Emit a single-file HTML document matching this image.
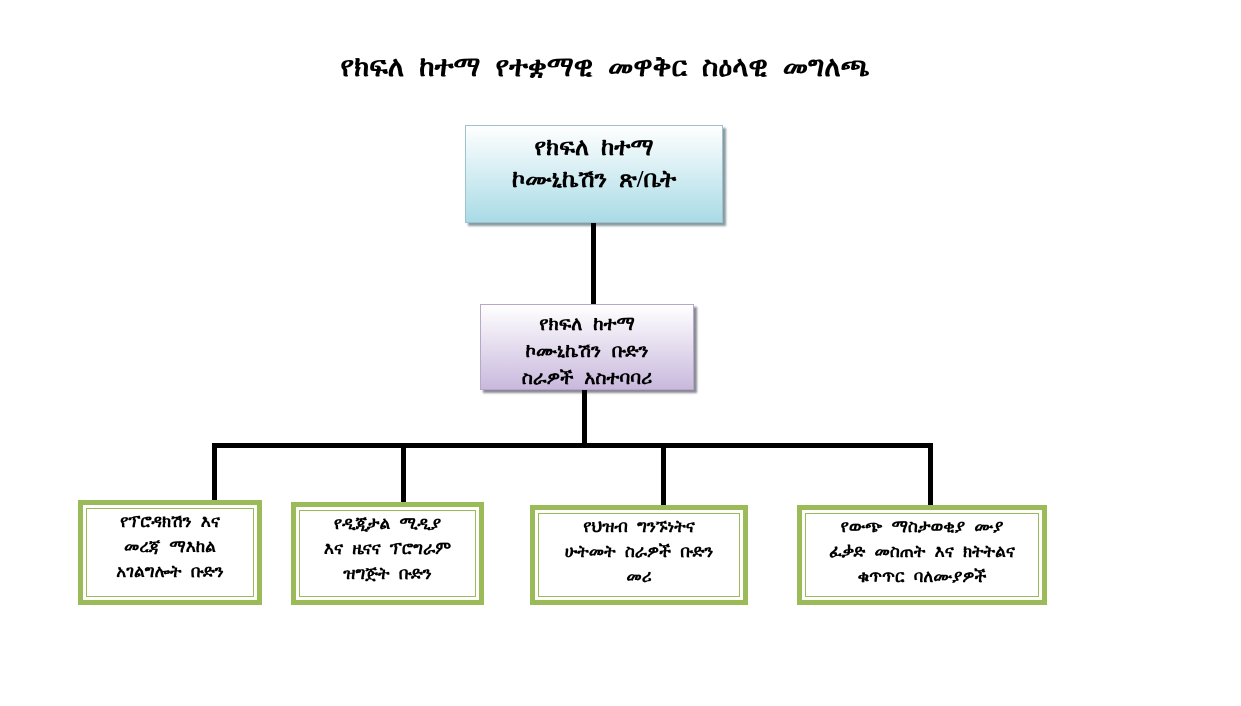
<!DOCTYPE html>
<html><head><meta charset="utf-8"><style>
body{margin:0;width:1241px;height:706px;background:#fff;position:relative;overflow:hidden;font-family:"Liberation Serif","DejaVu Sans",serif;color:#000}
.a{position:absolute;box-sizing:border-box;text-align:center;white-space:nowrap}
.t{left:0;width:1210px;top:52px;font-size:28px;font-weight:bold;word-spacing:8px}
.top{left:465px;top:125px;width:258px;height:98px;border:1px solid #9cc3cf;background:linear-gradient(#fff,#a9dbe6);box-shadow:3px 3px 2px #8a9aa0;font-size:24px;font-weight:bold;line-height:32px;padding-top:6px;word-spacing:6px}
.mid{left:480px;top:304px;width:214px;height:86px;border:1px solid #b7a8c8;background:linear-gradient(#fff,#c9b9dd);box-shadow:3px 3px 2px #8a8a95;font-size:19px;font-weight:bold;line-height:27px;padding-top:6px;word-spacing:6px}
.l{position:absolute;background:#000}
.g{border:5px solid #9bbb59;background:#fff;padding:3px}
.g div{border:1px solid #9bbb59;height:100%;box-sizing:border-box;font-size:17px;font-weight:bold;line-height:25px;padding-top:0px;word-spacing:5px}
</style></head><body>
<div class="a t">የክፍለ ከተማ የተቋማዊ መዋቅር ስዕላዊ መግለጫ</div>
<div class="a top">የክፍለ ከተማ<br>ኮሙኒኬሽን ጽ/ቤት</div>
<div class="l" style="left:591px;top:223px;width:5px;height:82px"></div>
<div class="a mid">የክፍለ ከተማ<br>ኮሙኒኬሽን ቡድን<br>ስራዎች አስተባባሪ</div>
<div class="l" style="left:582px;top:390px;width:5px;height:56px"></div>
<div class="l" style="left:212px;top:443px;width:721px;height:5px"></div>
<div class="l" style="left:212px;top:443px;width:5px;height:60px"></div>
<div class="l" style="left:401px;top:443px;width:5px;height:62px"></div>
<div class="l" style="left:661px;top:443px;width:5px;height:64px"></div>
<div class="l" style="left:928px;top:443px;width:5px;height:64px"></div>
<div class="a g" style="left:78px;top:500px;width:184px;height:105px"><div>የፕሮዳክሽን እና<br>መረጃ ማእከል<br>አገልግሎት ቡድን</div></div>
<div class="a g" style="left:291px;top:502px;width:193px;height:103px"><div>የዲጂታል ሚዲያ<br>እና ዜናና ፕሮግራም<br>ዝግጅት ቡድን</div></div>
<div class="a g" style="left:530px;top:505px;width:218px;height:100px"><div>የህዝብ ግንኙነትና<br>ሁትመት ስራዎች ቡድን<br>መሪ</div></div>
<div class="a g" style="left:797px;top:505px;width:250px;height:100px"><div>የውጭ ማስታወቂያ ሙያ<br>ፈቃድ መስጠት እና ክትትልና<br>ቁጥጥር ባለሙያዎች</div></div>
</body></html>
